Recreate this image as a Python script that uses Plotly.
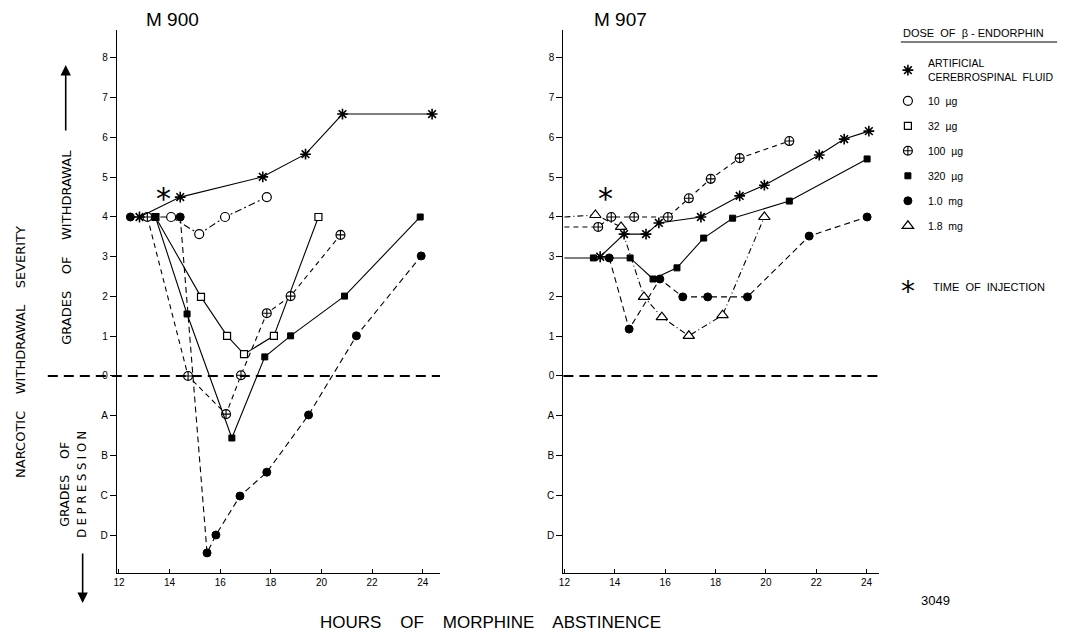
import plotly.graph_objects as go

W, H = 1082, 638
def px(x): return x / W
def py(y): return 1 - y / H

# ---------------- data (hours of abstinence, grade: 0..8 withdrawal, A..D = -1..-4 depression)
m900_acsf_x = [12.81, 14.42, 17.68, 19.37, 20.83, 24.37]
m900_acsf_y = [4.0, 4.50, 5.01, 5.58, 6.59, 6.59]
m900_10ug_x = [14.06, 15.17, 16.19, 17.84]
m900_10ug_y = [4.0, 3.57, 4.0, 4.50]
m900_32ug_x = [13.44, 15.24, 16.27, 16.94, 18.12, 19.88]
m900_32ug_y = [4.0, 1.99, 1.01, 0.55, 1.01, 4.0]
m900_100ug_x = [13.12, 14.73, 16.23, 16.82, 17.84, 18.78, 20.75]
m900_100ug_y = [4.0, 0.0, -0.96, 0.02, 1.58, 2.01, 3.55]
m900_320ug_x = [13.44, 14.69, 16.46, 17.76, 18.78, 20.91, 23.90]
m900_320ug_y = [4.0, 1.56, -1.56, 0.48, 1.01, 2.01, 4.0]
m900_1mg_x = [12.45, 14.42, 15.48, 15.83, 16.78, 17.84, 19.49, 21.38, 23.94]
m900_1mg_y = [4.0, 4.0, -4.45, -4.0, -3.02, -2.42, -0.98, 1.01, 3.02]

m907_acsf_x = [13.42, 14.37, 15.24, 15.75, 17.42, 18.96, 19.94, 22.12, 23.11, 24.09]
m907_acsf_y = [3.0, 3.57, 3.57, 3.85, 4.0, 4.53, 4.80, 5.56, 5.96, 6.16]
m907_100ug_x = [12.0, 13.34, 13.86, 14.77, 16.11, 16.94, 17.81, 18.96, 20.93]
m907_100ug_y = [3.75, 3.75, 4.0, 4.0, 4.0, 4.47, 4.96, 5.48, 5.91]
m907_320ug_x = [12.0, 13.15, 14.61, 15.52, 16.47, 17.53, 18.68, 20.93, 24.02]
m907_320ug_y = [2.97, 2.97, 2.97, 2.44, 2.72, 3.47, 3.97, 4.40, 5.46]
m907_1mg_x = [13.78, 14.57, 15.79, 16.70, 17.69, 19.27, 21.72, 24.02]
m907_1mg_y = [2.97, 1.18, 2.44, 1.99, 1.99, 1.99, 3.52, 4.0]
m907_18mg_x = [12.0, 13.23, 14.25, 15.16, 15.87, 16.94, 18.28, 19.94]
m907_18mg_y = [4.0, 4.05, 3.75, 1.99, 1.48, 1.01, 1.53, 4.0]

injection_x = [13.76, 13.63]
injection_y = [4.72, 4.72]

x_ticks = [12, 14, 16, 18, 20, 22, 24]
y_tickvals = [8, 7, 6, 5, 4, 3, 2, 1, 0, -1, -2, -3, -4]
y_ticktext = ["8", "7", "6", "5", "4", "3", "2", "1", "0", "A", "B", "C", "D"]

legend_names = ["ARTIFICIAL<br>CEREBROSPINAL  FLUID", "10  µg", "32  µg", "100  µg",
                "320  µg", "1.0  mg", "1.8  mg"]

# ---------------- styles
K = "black"
styles = {
    "acsf": dict(symbol="asterisk", size=9, color=K, line=dict(color=K, width=1.6)),
    "10ug": dict(symbol="circle", size=9, color="white", line=dict(color=K, width=1.2)),
    "32ug": dict(symbol="square", size=7, color="white", line=dict(color=K, width=1.2)),
    "100ug": dict(symbol="circle-cross", size=9, color="white", line=dict(color=K, width=1.1)),
    "320ug": dict(symbol="square", size=6, color=K, line=dict(color=K, width=1)),
    "1mg": dict(symbol="circle", size=8, color=K, line=dict(color=K, width=1)),
    "18mg": dict(symbol="triangle-up", size=10, color="white", line=dict(color=K, width=1.2)),
}
dashes = {"acsf": "solid", "10ug": "7px,3px,2px,3px", "32ug": "solid", "100ug": "5px,4px",
          "320ug": "solid", "1mg": "6px,4px", "18mg": "6px,3px,1px,3px"}

fig = go.Figure()

def add(xs, ys, key, xa, ya):
    mk = dict(styles[key])
    # lines that start at the axis (hour 12) carry no marker there
    mk["size"] = [0 if x <= 12.0 else styles[key]["size"] for x in xs]
    mk["opacity"] = 1
    fig.add_trace(go.Scatter(x=xs, y=ys, mode="lines+markers", xaxis=xa, yaxis=ya,
                             line=dict(color=K, width=1.1, dash=dashes[key]),
                             marker=mk, showlegend=False, hoverinfo="skip"))

# M900
add(m900_1mg_x, m900_1mg_y, "1mg", "x", "y")
add(m900_10ug_x, m900_10ug_y, "10ug", "x", "y")
add(m900_32ug_x, m900_32ug_y, "32ug", "x", "y")
add(m900_100ug_x, m900_100ug_y, "100ug", "x", "y")
add(m900_320ug_x, m900_320ug_y, "320ug", "x", "y")
add(m900_acsf_x, m900_acsf_y, "acsf", "x", "y")
# M907
add(m907_18mg_x, m907_18mg_y, "18mg", "x2", "y2")
add(m907_100ug_x, m907_100ug_y, "100ug", "x2", "y2")
add(m907_1mg_x, m907_1mg_y, "1mg", "x2", "y2")
add(m907_320ug_x, m907_320ug_y, "320ug", "x2", "y2")
add(m907_acsf_x, m907_acsf_y, "acsf", "x2", "y2")

# legend-only entries
for i, key in enumerate(["acsf", "10ug", "32ug", "100ug", "320ug", "1mg", "18mg"]):
    fig.add_trace(go.Scatter(x=[None], y=[None], mode="markers", marker=dict(styles[key]),
                             name=legend_names[i], legendgroup=key, showlegend=True))

# injection asterisks
for (xa, ya), ix, iy in zip([("x", "y"), ("x2", "y2")], injection_x, injection_y):
    fig.add_annotation(x=ix, y=iy, xref=xa, yref=ya, text="*", showarrow=False,
                       font=dict(family="DejaVu Sans", size=30, color=K), yshift=-10)

font = "Liberation Sans"
axis_common = dict(showline=True, linecolor=K, linewidth=1.3, showgrid=False, zeroline=False,
                   tickfont=dict(family=font, size=10, color=K), tickcolor=K)

fig.update_layout(
    width=W, height=H, margin=dict(l=0, r=0, t=0, b=0),
    paper_bgcolor="white", plot_bgcolor="white",
    xaxis=dict(domain=[px(112.5), px(437)], range=[11.921, 24.682], anchor="y",
               tickvals=x_ticks, ticks="inside", ticklen=4, **axis_common),
    yaxis=dict(domain=[py(573), py(30)], range=[-4.956, 8.704], anchor="x",
               tickvals=y_tickvals, ticktext=y_ticktext, ticks="outside", ticklen=6, **axis_common),
    xaxis2=dict(domain=[px(561), px(878)], range=[11.96, 24.49], anchor="y2",
                tickvals=x_ticks, ticks="inside", ticklen=4, **axis_common),
    yaxis2=dict(domain=[py(573), py(30)], range=[-4.956, 8.704], anchor="x2",
                tickvals=y_tickvals, ticktext=y_ticktext, ticks="outside", ticklen=6, **axis_common),
    legend=dict(x=px(887), y=py(50), xanchor="left", yanchor="top",
                font=dict(family=font, size=10.5, color=K), bgcolor="rgba(0,0,0,0)",
                traceorder="grouped", tracegroupgap=6, itemwidth=30),
    showlegend=True,
)

# zero (dashed) reference lines
fig.add_shape(type="line", xref="paper", yref="y", x0=px(43), x1=px(437), y0=0, y1=0,
              line=dict(color=K, width=1.8, dash="10px,6px"))
fig.add_shape(type="line", xref="paper", yref="y2", x0=px(561), x1=px(878), y0=0, y1=0,
              line=dict(color=K, width=1.8, dash="10px,6px"))

def spaced(s, sep=" "):
    return sep.join(list(s))

def txt(x, y, s, size=12, angle=0, xanchor="center", family=font):
    fig.add_annotation(x=px(x), y=py(y), xref="paper", yref="paper", text=s, showarrow=False,
                       textangle=angle, xanchor=xanchor, yanchor="middle",
                       font=dict(family=family, size=size, color=K))

def arrow(x, y_tip, y_tail):
    fig.add_annotation(x=px(x), y=py(y_tip), xref="paper", yref="paper", text="",
                       showarrow=True, ax=0, ay=y_tail - y_tip, arrowhead=2, arrowsize=1.3,
                       arrowwidth=1.6, arrowcolor=K)

DV = "DejaVu Sans"
txt(140, 20, "M 900", size=19, xanchor="left")
txt(590, 20, "M 907", size=19, xanchor="left")
txt(15, 352, "NARCOTIC    WITHDRAWAL    SEVERITY", size=13, angle=-90, family=DV)
txt(61, 247, "GRADES    OF    WITHDRAWAL", size=13, angle=-90, family=DV)
arrow(61, 65, 132)
txt(59, 484, "GRADES    OF", size=12.5, angle=-90, family=DV)
txt(77, 484, spaced("DEPRESSION"), size=11.5, angle=-90, family=DV)
arrow(78, 603, 552)
txt(488, 622, "HOURS    OF    MORPHINE    ABSTINENCE", size=17)
txt(935, 600, "3049", size=13)

txt(900, 33, "DOSE  OF  β - ENDORPHIN", size=11, xanchor="left")
fig.add_shape(type="line", xref="paper", yref="paper", x0=px(900), x1=px(1057),
              y0=py(42), y1=py(42), line=dict(color=K, width=1.2))
txt(907, 292, "*", size=28, family="DejaVu Sans")
txt(930, 287, "TIME  OF  INJECTION", size=11, xanchor="left")

fig.write_html("out.html")
